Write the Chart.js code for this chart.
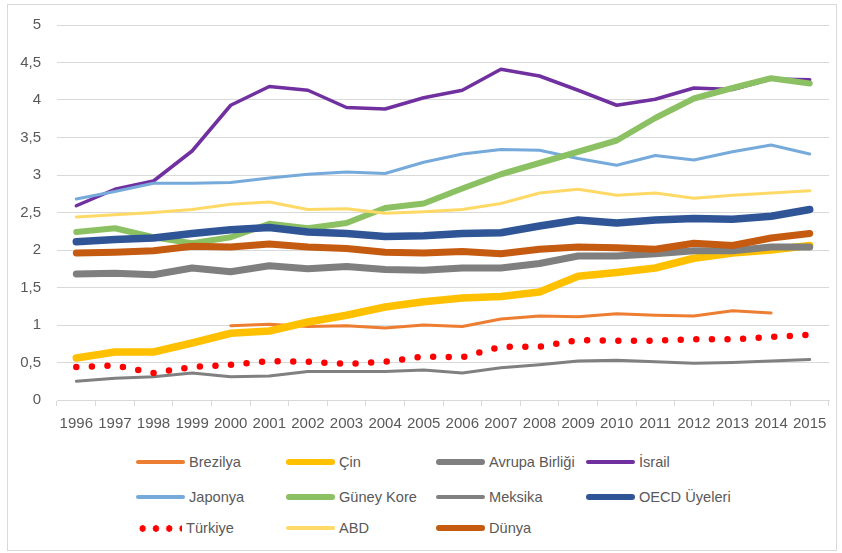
<!DOCTYPE html>
<html>
<head>
<meta charset="utf-8">
<script src="https://cdn.jsdelivr.net/npm/chart.js@4"></script>
<style>
body { margin:0; background:#fff; }
#wrap { position:relative; width:842px; height:553px; }
#frame { position:absolute; left:7px; top:4px; width:828px; height:545px; border:1px solid #d9d9d9; }
#chart { position:absolute; left:0; top:0; }
#legend { position:absolute; left:136px; top:450px; font-family:'Liberation Sans',Arial,sans-serif; font-size:14.6px; color:#595959; }
.item { position:absolute; height:24px; white-space:nowrap; display:flex; align-items:center; }
.sample { display:inline-block; width:49px; border-radius:4px; margin-right:4px; }
</style>
</head>
<body>
<div id="wrap">
<div id="frame"></div>
<canvas id="chart" width="842" height="445"></canvas>
<div id="legend"></div>
</div>
<script>
var years = ['1996','1997','1998','1999','2000','2001','2002','2003','2004','2005','2006','2007','2008','2009','2010','2011','2012','2013','2014','2015'];

var brezilya = [null,null,null,null,0.99,1.01,0.98,0.99,0.96,1.00,0.98,1.08,1.12,1.11,1.15,1.13,1.12,1.19,1.16,null];
var cin = [0.56,0.64,0.64,0.76,0.89,0.92,1.04,1.13,1.24,1.31,1.36,1.38,1.44,1.65,1.70,1.76,1.89,1.96,2.00,2.06];
var avrupaBirligi = [1.68,1.69,1.67,1.76,1.71,1.79,1.75,1.78,1.74,1.73,1.76,1.76,1.82,1.92,1.92,1.95,1.99,1.99,2.04,2.04];
var israil = [2.59,2.81,2.92,3.32,3.93,4.18,4.13,3.90,3.88,4.03,4.13,4.41,4.32,4.13,3.93,4.01,4.16,4.14,4.28,4.27];
var japonya = [2.68,2.78,2.89,2.89,2.90,2.96,3.01,3.04,3.02,3.17,3.28,3.34,3.33,3.22,3.13,3.26,3.20,3.31,3.40,3.28];
var guneyKore = [2.24,2.29,2.17,2.09,2.17,2.35,2.29,2.36,2.56,2.62,2.82,3.01,3.16,3.31,3.46,3.76,4.02,4.16,4.29,4.22];
var meksika = [0.25,0.29,0.31,0.36,0.31,0.32,0.38,0.38,0.38,0.40,0.36,0.43,0.47,0.52,0.53,0.51,0.49,0.50,0.52,0.54];
var oecd = [2.11,2.14,2.16,2.22,2.27,2.30,2.24,2.22,2.18,2.19,2.22,2.23,2.32,2.40,2.36,2.40,2.42,2.41,2.45,2.54];
var turkiye = [0.44,0.46,0.36,0.44,0.47,0.52,0.51,0.48,0.51,0.58,0.57,0.71,0.71,0.80,0.79,0.79,0.81,0.81,0.84,0.87];
var abd = [2.44,2.47,2.50,2.54,2.61,2.64,2.54,2.55,2.49,2.51,2.54,2.62,2.76,2.81,2.73,2.76,2.69,2.73,2.76,2.79];
var dunya = [1.96,1.97,1.99,2.05,2.04,2.08,2.04,2.02,1.97,1.96,1.98,1.95,2.01,2.04,2.03,2.01,2.09,2.06,2.16,2.22];

var fontName = "'Liberation Sans',Arial,sans-serif";

// series in excel order, later ones are drawn on top
var series = [
	{ label:'Brezilya', data:brezilya, color:'#ED7D31', width:3 },
	{ label:'Çin', data:cin, color:'#FFC000', width:7.5 },
	{ label:'Avrupa Birliği', data:avrupaBirligi, color:'#7F7F7F', width:7 },
	{ label:'İsrail', data:israil, color:'#7030A0', width:3.5 },
	{ label:'Japonya', data:japonya, color:'#75AADB', width:3 },
	{ label:'Güney Kore', data:guneyKore, color:'#8BC163', width:6 },
	{ label:'Meksika', data:meksika, color:'#808080', width:3 },
	{ label:'OECD Üyeleri', data:oecd, color:'#2F5597', width:7.5 },
	{ label:'Türkiye', data:turkiye, color:'#FF0000', width:6.5, dots:true },
	{ label:'ABD', data:abd, color:'#FFD966', width:3 },
	{ label:'Dünya', data:dunya, color:'#C55A11', width:7 }
];

var datasets = [];
for (var i = 0; i < series.length; i++) {
	var s = series[i];
	datasets.push({
		label: s.label,
		data: s.data,
		borderColor: s.color,
		backgroundColor: s.color,
		borderWidth: s.width,
		borderDash: s.dots ? [0, 15.6] : [],
		borderCapStyle: 'round',
		borderJoinStyle: 'round',
		pointRadius: 0,
		fill: false,
		tension: 0,
		order: series.length - i
	});
}

var ctx = document.getElementById('chart');
var chart = new Chart(ctx, {
	type: 'line',
	data: { labels: years, datasets: datasets },
	options: {
		responsive: false,
		animation: false,
		devicePixelRatio: 1,
		layout: { padding: { left: 0, right: 13, top: 25, bottom: 0 } },
		plugins: { legend: { display: false }, tooltip: { enabled: false } },
		scales: {
			x: {
				offset: true,
				grid: { offset: true, drawOnChartArea: false, drawTicks: true, tickLength: 6, color: '#d9d9d9' },
				border: { color: '#d9d9d9' },
				ticks: { color: '#595959', font: { family: fontName, size: 15 }, padding: 9, maxRotation: 0, autoSkip: false },
				afterFit: function(scale) { scale.height = 45; }
			},
			y: {
				min: 0,
				max: 5,
				ticks: {
					stepSize: 0.5,
					color: '#595959',
					font: { family: fontName, size: 15 },
					padding: 16,
					callback: function(v) { return String(v).replace('.', ','); }
				},
				grid: { color: '#d9d9d9', drawTicks: false },
				border: { display: false },
				afterFit: function(scale) { scale.width = 57; }
			}
		}
	}
});

// html legend, 4 columns like the excel one
var legend = document.getElementById('legend');
var rowTops = [0, 35, 66];
for (var k = 0; k < series.length; k++) {
	var it = document.createElement('div');
	it.className = 'item';
	it.style.left = (k % 4) * 150 + 'px';
	it.style.top = rowTops[Math.floor(k / 4)] + 'px';
	var sm = document.createElement('span');
	sm.className = 'sample';
	if (series[k].dots) {
		sm.style.height = '7px';
		sm.style.width = '46px';
		sm.style.borderRadius = '0';
		sm.style.background = 'radial-gradient(circle, #FF0000 3px, transparent 3.5px) 0 0 / 13.3px 7px repeat-x';
	} else {
		var h = series[k].width > 5 ? 6 : 4;
		sm.style.height = h + 'px';
		sm.style.background = series[k].color;
	}
	it.appendChild(sm);
	it.appendChild(document.createTextNode(series[k].label));
	legend.appendChild(it);
}
</script>
</body>
</html>
